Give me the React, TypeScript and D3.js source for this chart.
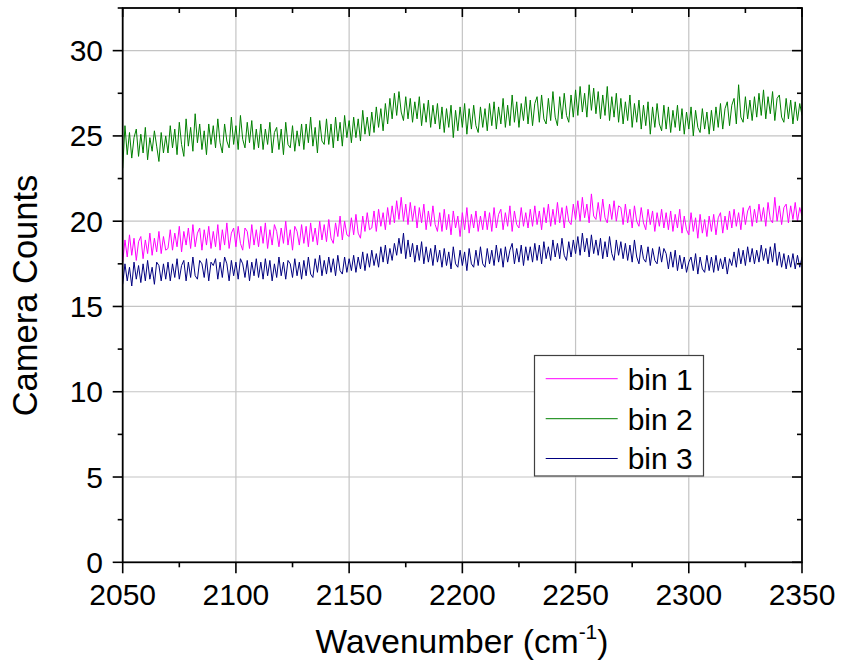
import React from "react";
import * as d3 from "d3";

const wavenumberStart = 2050;
const wavenumberStep = 1;

const bin1: number[] = [
  17.6, 18.9, 17.9, 19.2, 18.0, 19.0, 17.7, 18.8, 19.1, 17.8, 18.9, 18.1, 19.3, 18.0, 19.0, 18.2, 19.4, 18.1, 19.1, 18.3,
  18.4, 19.5, 18.3, 19.3, 18.5, 19.7, 18.2, 19.4, 18.6, 19.6, 18.4, 19.8, 18.5, 19.3, 19.6, 18.3, 19.5, 18.6, 19.7, 18.4,
  19.4, 18.5, 19.8, 18.3, 19.5, 18.6, 19.9, 18.4, 19.3, 19.6, 18.5, 19.7, 18.7, 18.3, 19.6, 19.4, 18.4, 19.8, 18.6, 19.5,
  18.5, 19.7, 18.7, 19.9, 18.4, 19.5, 18.6, 19.8, 19.4, 18.5, 19.6, 18.7, 20.0, 18.6, 19.5, 18.3, 19.7, 19.4, 18.6, 19.8,
  18.7, 19.7, 18.5, 19.9, 18.8, 19.6, 18.6, 20.0, 18.9, 19.8, 18.8, 20.1, 19.0, 18.7, 19.9, 19.1, 20.3, 18.9, 20.0, 19.2,
  19.1, 20.2, 19.2, 20.4, 19.3, 19.0, 20.3, 19.4, 20.5, 19.5, 19.6, 20.6, 19.4, 20.7, 19.7, 20.5, 19.5, 20.8, 19.8, 20.9,
  19.9, 21.2, 20.1, 21.4, 20.0, 21.0, 19.8, 21.1, 20.0, 20.9, 19.6, 20.8, 19.9, 21.0, 19.5, 20.6, 19.7, 20.9, 19.8, 19.4,
  20.5, 19.4, 20.7, 19.5, 20.4, 19.2, 20.6, 19.6, 20.3, 19.1, 20.5, 19.5, 20.8, 19.3, 20.4, 19.6, 20.6, 19.4, 20.3, 19.5,
  20.6, 19.5, 20.5, 19.4, 20.8, 19.6, 20.4, 20.7, 19.5, 20.5, 19.7, 20.9, 19.4, 20.6, 19.8, 19.6, 20.8, 19.7, 20.5, 19.6,
  20.7, 19.7, 20.9, 19.8, 20.6, 19.5, 20.8, 19.9, 21.0, 19.7, 20.7, 19.8, 21.1, 19.9, 20.8, 19.6, 20.9, 20.0, 19.8, 21.0,
  20.1, 21.2, 20.0, 21.4, 20.2, 21.0, 19.9, 21.6, 20.3, 20.1, 21.1, 20.0, 21.3, 20.2, 19.9, 21.0, 20.1, 21.2, 20.0, 20.9,
  20.8, 19.8, 21.0, 19.9, 20.7, 19.6, 20.9, 20.0, 19.7, 20.8, 19.9, 19.5, 20.7, 19.8, 20.6, 19.4, 20.5, 19.7, 20.7, 19.6,
  20.5, 19.5, 20.6, 19.4, 20.4, 19.6, 20.7, 19.3, 20.3, 19.5, 19.2, 20.5, 19.4, 20.2, 19.0, 20.4, 19.3, 20.1, 19.1, 20.3,
  19.4, 20.4, 19.2, 20.2, 20.5, 19.3, 20.3, 19.5, 20.6, 19.6, 20.7, 19.7, 20.5, 19.5, 20.8, 19.8, 20.6, 20.9, 19.7, 20.7,
  19.9, 21.0, 20.0, 20.8, 19.7, 21.1, 20.1, 19.9, 21.4, 20.0, 20.9, 19.8, 20.8, 21.0, 19.9, 20.9, 20.1, 21.1, 20.0, 20.8,
  20.3,
];

const bin2: number[] = [
  23.1, 25.6, 23.9, 25.2, 23.7, 24.9, 25.4, 23.8, 25.1, 24.0, 25.5, 23.6, 24.9, 24.1, 25.3, 24.4, 23.5, 25.2, 24.0, 25.0,
  24.0, 25.6, 24.3, 25.4, 23.9, 25.8, 24.5, 23.8, 26.0, 24.4, 25.5, 24.1, 26.3, 24.6, 25.7, 24.2, 25.3, 23.9, 25.7, 24.5,
  25.6, 24.3, 26.0, 24.6, 24.0, 25.7, 24.7, 24.3, 26.1, 24.5, 25.6, 24.2, 26.2, 24.8, 24.3, 25.8, 24.6, 25.9, 24.2, 25.4,
  24.3, 25.7, 24.2, 25.4, 24.5, 25.8, 24.0, 25.2, 25.5, 24.2, 25.4, 23.9, 25.8, 24.5, 24.3, 25.6, 24.1, 25.3, 24.4, 25.7,
  24.2, 25.7, 24.6, 26.1, 24.4, 25.5, 24.0, 25.9, 24.7, 24.5, 26.0, 24.5, 25.7, 24.3, 26.1, 24.7, 25.8, 24.4, 26.2, 24.9,
  25.9, 24.6, 26.1, 24.9, 26.0, 24.7, 26.5, 25.1, 26.1, 25.0, 26.4, 25.2, 26.7, 25.5, 26.6, 25.3, 26.9, 25.7, 27.2, 26.0,
  27.5, 26.2, 27.6, 26.4, 25.9, 27.3, 26.0, 27.2, 25.8, 27.0, 26.0, 27.3, 25.6, 26.9, 25.8, 27.1, 25.5, 26.8, 25.7, 26.9,
  25.4, 26.7, 25.2, 26.6, 25.5, 26.8, 24.9, 26.5, 25.3, 26.7, 25.5, 26.9, 25.1, 26.6, 25.4, 26.8, 25.6, 25.2, 26.7, 25.5,
  26.6, 25.3, 26.9, 25.6, 27.0, 25.4, 26.7, 25.7, 27.2, 25.5, 26.8, 25.6, 27.4, 25.8, 27.0, 25.5, 26.9, 25.9, 27.3, 25.7,
  27.1, 25.6, 26.9, 27.3, 25.8, 27.4, 26.0, 25.7, 27.2, 25.9, 27.6, 26.1, 25.6, 27.3, 26.0, 27.5, 26.2, 25.8, 27.4, 26.1,
  27.7, 26.2, 27.9, 26.4, 27.5, 26.1, 28.0, 26.5, 27.8, 26.3, 27.6, 26.0, 27.4, 26.2, 27.9, 25.9, 27.3, 26.1, 27.5, 25.8,
  27.2, 25.7, 27.0, 25.9, 27.4, 25.5, 26.9, 25.8, 27.1, 25.4, 26.8, 25.6, 27.0, 25.1, 26.7, 25.5, 26.9, 25.7, 25.3, 26.8,
  25.4, 26.7, 25.2, 26.5, 25.5, 26.8, 25.3, 26.6, 25.1, 26.4, 25.4, 26.7, 25.0, 26.5, 25.5, 25.2, 26.6, 25.4, 26.4, 25.1,
  26.5, 25.3, 26.7, 25.5, 26.9, 25.4, 26.6, 27.0, 25.6, 26.8, 27.2, 25.7, 28.0, 26.1, 25.8, 27.3, 26.0, 27.1, 25.9, 27.3,
  26.1, 27.5, 26.2, 27.7, 26.0, 27.3, 26.3, 27.6, 25.9, 27.2, 27.4, 26.1, 25.8, 27.2, 26.0, 27.1, 25.7, 27.0, 25.9, 26.9,
  26.2,
];

const bin3: number[] = [
  16.3, 17.5, 16.5, 17.3, 16.2, 17.6, 16.6, 17.4, 16.4, 17.5, 16.5, 17.7, 16.6, 17.3, 16.3, 17.6, 17.4, 16.5, 17.5, 16.6,
  17.6, 16.5, 17.5, 16.7, 17.8, 16.6, 17.4, 17.7, 16.5, 17.6, 16.7, 17.9, 16.8, 16.6, 17.7, 17.5, 16.7, 17.8, 16.5, 17.6,
  17.4, 17.8, 16.6, 17.6, 16.7, 17.9, 17.5, 16.5, 17.7, 16.8, 17.6, 16.6, 17.8, 17.5, 16.7, 17.7, 16.5, 17.6, 16.8, 17.8,
  16.7, 17.6, 16.6, 17.8, 16.8, 17.7, 16.5, 17.5, 16.7, 17.9, 16.8, 17.6, 16.6, 17.7, 17.5, 16.7, 17.8, 16.8, 17.6, 16.6,
  17.7, 16.8, 17.9, 16.9, 16.7, 17.8, 17.0, 18.0, 16.8, 17.7, 16.9, 17.9, 17.0, 17.8, 16.8, 18.0, 17.1, 16.9, 17.9, 17.0,
  17.8, 17.1, 18.0, 17.0, 17.9, 17.2, 18.2, 17.1, 18.1, 17.3, 18.3, 17.4, 18.1, 17.3, 18.5, 17.6, 18.6, 17.5, 18.4, 17.7,
  18.7, 18.0, 19.0, 18.1, 19.3, 17.8, 18.9, 17.9, 18.7, 17.6, 18.6, 17.7, 18.8, 17.5, 18.5, 17.6, 18.4, 17.4, 18.6, 17.6,
  18.3, 17.3, 18.4, 17.4, 18.2, 17.2, 18.5, 17.5, 17.3, 18.3, 17.4, 18.2, 17.1, 18.4, 17.5, 17.3, 18.3, 17.4, 18.5, 17.5,
  17.3, 18.4, 17.5, 18.3, 17.4, 18.6, 17.6, 18.4, 17.3, 18.5, 17.6, 18.3, 18.7, 17.5, 18.4, 17.6, 18.6, 17.4, 18.5, 17.7,
  18.5, 17.6, 18.7, 17.7, 18.6, 17.5, 18.8, 17.8, 18.5, 17.7, 18.9, 17.9, 18.7, 17.8, 19.0, 18.0, 17.7, 18.8, 17.9, 18.9,
  18.1, 19.1, 18.0, 19.3, 18.2, 19.0, 17.9, 19.2, 18.1, 18.9, 18.0, 19.0, 17.8, 18.8, 17.9, 19.1, 18.1, 17.7, 18.9, 18.0,
  18.8, 17.8, 18.7, 17.7, 18.6, 17.6, 18.9, 17.9, 17.5, 18.6, 17.8, 17.6, 18.5, 17.4, 18.4, 17.7, 17.5, 18.5, 17.6, 18.4,
  18.1, 17.2, 18.2, 17.3, 18.3, 17.1, 18.0, 17.2, 17.9, 17.0, 17.6, 17.9, 17.1, 18.1, 16.9, 17.9, 17.2, 17.0, 18.0, 17.1,
  17.9, 17.0, 18.0, 17.1, 17.8, 17.2, 17.9, 16.9, 17.8, 17.4, 18.2, 17.3, 18.4, 17.5, 18.3, 17.4, 18.5, 17.6, 18.4, 17.5,
  18.3, 17.6, 18.6, 17.7, 18.4, 17.5, 18.5, 17.6, 18.7, 17.4, 18.2, 17.3, 18.1, 17.2, 18.0, 17.3, 18.1, 17.2, 18.0, 17.3,
  17.9,
];

const seriesNames = ["bin 1", "bin 2", "bin 3"];
const seriesColors = ["#ff00ff", "#008000", "#000080"];
const seriesValues = [bin1, bin2, bin3];

const xTicks = [2050, 2100, 2150, 2200, 2250, 2300, 2350];
const xMinorTicks = [2075, 2125, 2175, 2225, 2275, 2325];
const yTicks = [0, 5, 10, 15, 20, 25, 30];
const yMinorTicks = [2.5, 7.5, 12.5, 17.5, 22.5, 27.5, 32.5];

const xTitle = "Wavenumber (cm";
const xTitleSup = "-1";
const yTitle = "Camera Counts";

const W = 843;
const H = 662;
const left = 122.7;
const right = 802;
const top = 8;
const bottom = 562.3;
const FONT = "'Liberation Sans', Arial, sans-serif";

export default function App() {
  const x = d3.scaleLinear().domain([2050, 2350]).range([left, right]);
  const y = d3.scaleLinear().domain([0, 32.5]).range([bottom, top]);
  const line = d3
    .line<number>()
    .x((_, i) => x(wavenumberStart + i * wavenumberStep))
    .y((d) => y(d));

  const legendX = 534.5;
  const legendY = 355.5;
  const legendRowY = [378.7, 418.7, 458.5];

  return (
    <svg
      width={W}
      height={H}
      style={{ position: "absolute", left: 0, top: 0, background: "#fff" }}
      fontFamily={FONT}
    >
      <rect x={0} y={0} width={W} height={H} fill="#fff" />
      {xTicks.slice(1, -1).map((t) => (
        <line key={"gx" + t} x1={x(t)} x2={x(t)} y1={top} y2={bottom} stroke="#c4c4c4" strokeWidth={1.2} />
      ))}
      {yTicks.slice(1).map((t) => (
        <line key={"gy" + t} x1={left} x2={right} y1={y(t)} y2={y(t)} stroke="#c4c4c4" strokeWidth={1.2} />
      ))}
      <defs>
        <clipPath id="plotclip">
          <rect x={left} y={top} width={right - left} height={bottom - top} />
        </clipPath>
      </defs>
      <g clipPath="url(#plotclip)">
        {seriesValues.map((vals, i) => (
          <path key={i} d={line(vals) || ""} fill="none" stroke={seriesColors[i]} strokeWidth={1} />
        ))}
      </g>
      <rect x={left} y={top} width={right - left} height={bottom - top} fill="none" stroke="#000" strokeWidth={1.8} />
      {xTicks.map((t) => (
        <g key={"xt" + t}>
          <line x1={x(t)} x2={x(t)} y1={bottom} y2={bottom + 11} stroke="#000" strokeWidth={1.6} />
          <line x1={x(t)} x2={x(t)} y1={top} y2={top + 9} stroke="#000" strokeWidth={1.6} />
          <text x={x(t)} y={605} textAnchor="middle" fontSize={30} fill="#000">
            {t}
          </text>
        </g>
      ))}
      {xMinorTicks.map((t) => (
        <g key={"xm" + t}>
          <line x1={x(t)} x2={x(t)} y1={bottom} y2={bottom + 5} stroke="#000" strokeWidth={1.6} />
          <line x1={x(t)} x2={x(t)} y1={top} y2={top + 5} stroke="#000" strokeWidth={1.6} />
        </g>
      ))}
      {yTicks.map((t) => (
        <g key={"yt" + t}>
          <line x1={left - 10} x2={left} y1={y(t)} y2={y(t)} stroke="#000" strokeWidth={1.6} />
          <line x1={right - 10} x2={right} y1={y(t)} y2={y(t)} stroke="#000" strokeWidth={1.6} />
          <text x={103} y={y(t) + 10.5} textAnchor="end" fontSize={30} fill="#000">
            {t}
          </text>
        </g>
      ))}
      {yMinorTicks.map((t) => (
        <g key={"ym" + t}>
          <line x1={left - 5} x2={left} y1={y(t)} y2={y(t)} stroke="#000" strokeWidth={1.6} />
          <line x1={right - 5} x2={right} y1={y(t)} y2={y(t)} stroke="#000" strokeWidth={1.6} />
        </g>
      ))}
      <text x={462} y={653} textAnchor="middle" fontSize={33.5} fill="#000">
        {xTitle}
        <tspan fontSize={21} dy={-14}>
          {xTitleSup}
        </tspan>
        <tspan dy={14}>)</tspan>
      </text>
      <text
        transform={`translate(37,295.5) rotate(-90)`}
        textAnchor="middle"
        fontSize={34.5}
        fill="#000"
      >
        {yTitle}
      </text>
      <rect x={legendX} y={legendY} width={169} height={120.5} fill="#fff" stroke="#404040" strokeWidth={1.2} />
      {seriesNames.map((name, i) => (
        <g key={name}>
          <line x1={545.7} x2={617.7} y1={legendRowY[i]} y2={legendRowY[i]} stroke={seriesColors[i]} strokeWidth={1} />
          <text x={627.7} y={legendRowY[i] + 10.8} fontSize={30} fill="#000">
            {name}
          </text>
        </g>
      ))}
    </svg>
  );
}
